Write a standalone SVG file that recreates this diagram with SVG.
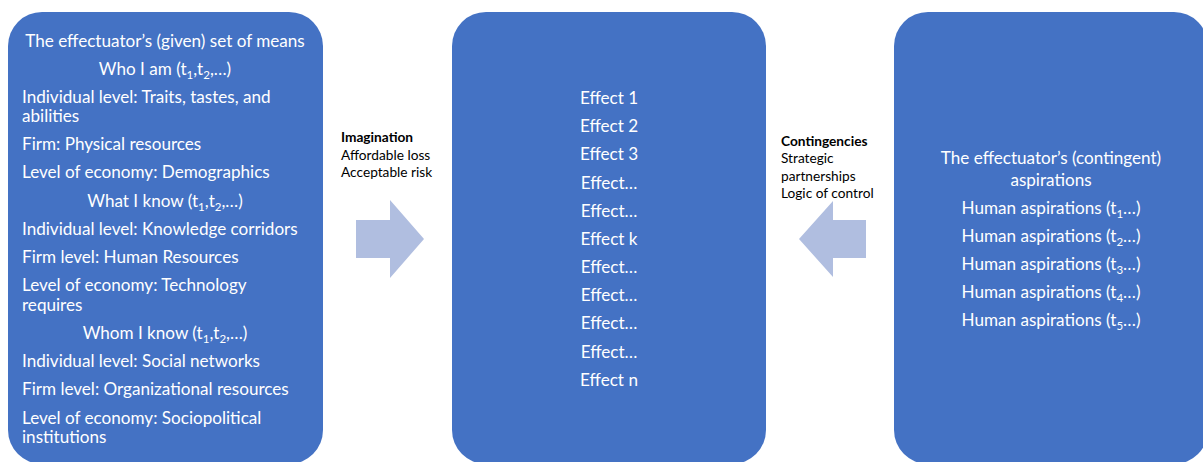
<svg xmlns="http://www.w3.org/2000/svg" width="1203" height="462" viewBox="0 0 1203 462">
  <style>
    .box { fill: #4472C4; }
    .arrow { fill: #B0BEE0; }
    .t { font-family: Lato, "Open Sans", "Liberation Sans", sans-serif; font-size: 17.1px; fill: #FFFFFF; }
    .c { text-anchor: middle; }
    .lbl { font-family: Lato, "Open Sans", "Liberation Sans", sans-serif; font-size: 13.7px; fill: #000000; }
    .b { font-weight: bold; }
    .sub { font-size: 11.5px; }
  </style>

  <!-- Means -->
  <g id="means">
    <rect class="box" x="8" y="12" width="315" height="452" rx="34" ry="34"/>
    <text class="t c" x="165" y="47">The effectuator’s (given) set of means</text>
    <text class="t c" x="165" y="75">Who I am (t<tspan class="sub" dy="4">1</tspan><tspan dy="-4">,t</tspan><tspan class="sub" dy="4">2</tspan><tspan dy="-4">,…)</tspan></text>
    <text class="t" x="22" y="103">Individual level: Traits, tastes, and</text>
    <text class="t" x="22" y="122">abilities</text>
    <text class="t" x="22" y="150">Firm: Physical resources</text>
    <text class="t" x="22" y="178">Level of economy: Demographics</text>
    <text class="t c" x="165" y="207">What I know (t<tspan class="sub" dy="4">1</tspan><tspan dy="-4">,t</tspan><tspan class="sub" dy="4">2</tspan><tspan dy="-4">,…)</tspan></text>
    <text class="t" x="22" y="235">Individual level: Knowledge corridors</text>
    <text class="t" x="22" y="263">Firm level: Human Resources</text>
    <text class="t" x="22" y="291">Level of economy: Technology</text>
    <text class="t" x="22" y="311">requires</text>
    <text class="t c" x="165" y="339">Whom I know (t<tspan class="sub" dy="4">1</tspan><tspan dy="-4">,t</tspan><tspan class="sub" dy="4">2</tspan><tspan dy="-4">,…)</tspan></text>
    <text class="t" x="22" y="367">Individual level: Social networks</text>
    <text class="t" x="22" y="395">Firm level: Organizational resources</text>
    <text class="t" x="22" y="424">Level of economy: Sociopolitical</text>
    <text class="t" x="22" y="443">institutions</text>
  </g>

  <!-- Effects -->
  <g id="effects">
    <rect class="box" x="452" y="12" width="314" height="452" rx="34" ry="34"/>
    <text class="t c" x="609" y="104">Effect 1</text>
    <text class="t c" x="609" y="132">Effect 2</text>
    <text class="t c" x="609" y="160">Effect 3</text>
    <text class="t c" x="609" y="189">Effect…</text>
    <text class="t c" x="609" y="217">Effect…</text>
    <text class="t c" x="609" y="245">Effect k</text>
    <text class="t c" x="609" y="273">Effect…</text>
    <text class="t c" x="609" y="301">Effect…</text>
    <text class="t c" x="609" y="329">Effect…</text>
    <text class="t c" x="609" y="358">Effect…</text>
    <text class="t c" x="609" y="386">Effect n</text>
  </g>

  <!-- Aspirations -->
  <g id="aspirations">
    <rect class="box" x="894" y="12" width="314" height="452" rx="34" ry="34"/>
    <text class="t c" x="1051" y="164">The effectuator’s (contingent)</text>
    <text class="t c" x="1051" y="186">aspirations</text>
    <text class="t c" x="1051" y="214">Human aspirations (t<tspan class="sub" dy="4">1</tspan><tspan dy="-4">…)</tspan></text>
    <text class="t c" x="1051" y="242">Human aspirations (t<tspan class="sub" dy="4">2</tspan><tspan dy="-4">…)</tspan></text>
    <text class="t c" x="1051" y="270">Human aspirations (t<tspan class="sub" dy="4">3</tspan><tspan dy="-4">…)</tspan></text>
    <text class="t c" x="1051" y="298">Human aspirations (t<tspan class="sub" dy="4">4</tspan><tspan dy="-4">…)</tspan></text>
    <text class="t c" x="1051" y="326">Human aspirations (t<tspan class="sub" dy="4">5</tspan><tspan dy="-4">…)</tspan></text>
  </g>

  <!-- Connectors: block arrows with their labels -->
  <g id="connectors">
    <path class="arrow" d="M356 220 H390 V200 L424 239 L390 278 V258 H356 Z"/>
    <path class="arrow" d="M866 220 H833 V201 L799 239 L833 277 V258 H866 Z"/>
    <text class="lbl b" x="341" y="142">Imagination</text>
    <text class="lbl" x="341" y="160">Affordable loss</text>
    <text class="lbl" x="341" y="177">Acceptable risk</text>
    <text class="lbl b" x="781" y="146">Contingencies</text>
    <text class="lbl" x="781" y="163">Strategic</text>
    <text class="lbl" x="781" y="181">partnerships</text>
    <text class="lbl" x="781" y="198">Logic of control</text>
  </g>
</svg>
